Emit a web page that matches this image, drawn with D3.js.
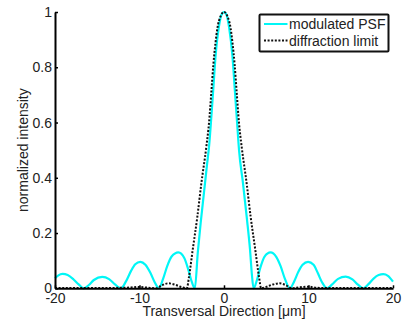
<!DOCTYPE html>
<html>
<head>
<meta charset="utf-8">
<script src="https://cdn.jsdelivr.net/npm/d3@7"></script>
<style>
  body { margin: 0; background: #fff; }
  text { font-family: "Liberation Sans", Arial, Helvetica, sans-serif; }
</style>
</head>
<body>
<svg id="chart"></svg>
<script>
// modulated PSF
const psfX = [-20, -19.6, -19.1, -18.5, -17.8, -17.2, -16.6, -16.0, -15.4, -14.4, -13.6, -12.9, -12.2,
  -11.6, -11.0, -10.5, -9.9, -9.3, -8.7, -8.2, -7.7, -7.2, -6.7, -6.2, -5.4, -4.7, -4.2, -3.8, -3.45,
  -3.1, -2.75, -2.5, -2.25, -2.0, -1.75, -1.5, -1.25, -1.0, -0.6, -0.3, 0,
  0.3, 0.6, 1.0, 1.3, 1.55, 1.78, 2.25, 2.68, 3.08, 3.3, 3.5,
  3.9, 4.3, 4.8, 5.5, 6.2, 6.7, 7.2, 7.8, 8.3, 8.8, 9.3, 9.95, 10.6, 11.1, 11.6, 12.2,
  12.8, 13.5, 14.4, 15.2, 15.9, 16.5, 17.1, 17.7, 18.3, 18.85, 19.4, 20];
const psfY = [0.036, 0.047, 0.052, 0.048, 0.032, 0.014, 0, 0.012, 0.030, 0.041, 0.033, 0.014, 0,
  0.025, 0.063, 0.087, 0.096, 0.085, 0.055, 0.022, 0, 0.035, 0.082, 0.115, 0.13, 0.11, 0.065, 0.022, 0,
  0.13, 0.24, 0.31, 0.38, 0.45, 0.52, 0.62, 0.73, 0.84, 0.947, 0.99, 1,
  0.99, 0.945, 0.84, 0.71, 0.6, 0.5, 0.38, 0.26, 0.14, 0.05, 0,
  0.03, 0.075, 0.115, 0.13, 0.113, 0.08, 0.035, 0, 0.025, 0.06, 0.085, 0.096, 0.085, 0.055, 0.022, 0,
  0.014, 0.034, 0.042, 0.032, 0.012, 0, 0.015, 0.035, 0.048, 0.051, 0.045, 0.024];

// diffraction limit
const difX = [-20, -14, -12, -11, -10.2, -9.3, -8.6, -8.0, -7.4, -6.6, -5.8, -5.0, -4.4,
  -4.14, -3.7, -3.15, -2.68, -2.1, -1.77, -1.5, -1.26, -1.0, -0.79, -0.4, 0,
  0.4, 0.79, 1.0, 1.26, 1.5, 1.77, 2.1, 2.68, 3.15, 3.7, 4.14,
  4.4, 5.0, 5.8, 6.6, 7.4, 8.0, 8.6, 9.9, 11, 12, 14, 20];
const difY = [0.001, 0.001, 0.002, 0.003, 0.005, 0.003, 0.001, 0, 0.01, 0.018, 0.013, 0.004, 0,
  0.042, 0.14, 0.26, 0.38, 0.51, 0.6, 0.71, 0.81, 0.89, 0.94, 0.985, 1,
  0.985, 0.94, 0.89, 0.81, 0.71, 0.6, 0.51, 0.38, 0.26, 0.14, 0.042,
  0, 0.005, 0.014, 0.018, 0.01, 0, 0.002, 0.006, 0.002, 0.001, 0.001, 0.001];

const xTicks = [-20, -10, 0, 10, 20];
const yTicks = [0, 0.2, 0.4, 0.6, 0.8, 1];
const legendLabels = ["modulated PSF", "diffraction limit"];

const size = { width: 405, height: 321 };
const plot = { left: 55, right: 393, top: 12, bottom: 288.3 };

const svg = d3.select("#chart")
  .attr("width", size.width)
  .attr("height", size.height);

const xScale = d3.scaleLinear([-20, 20], [plot.left, plot.right]);
const yScale = d3.scaleLinear([0, 1], [plot.bottom, plot.top]);

const line = d3.line()
  .x(d => xScale(d[0]))
  .y(d => yScale(d[1]))
  .curve(d3.curveMonotoneX);

const psf = psfX.map((x, i) => [x, psfY[i]]);
const dif = difX.map((x, i) => [x, difY[i]]);

// curves
svg.append("path")
  .attr("d", line(psf))
  .attr("fill", "none")
  .attr("stroke", "#00f6f6")
  .attr("stroke-width", 2.2);

svg.append("path")
  .attr("d", line(dif))
  .attr("fill", "none")
  .attr("stroke", "#111")
  .attr("stroke-width", 2)
  .attr("stroke-dasharray", "2,1.6");

// axes (ticks point inward like matlab)
const xAxis = svg.append("g")
  .attr("transform", `translate(0,${plot.bottom})`)
  .call(d3.axisBottom(xScale).tickValues(xTicks).tickSizeInner(-3).tickSizeOuter(0).tickFormat(d3.format("d")));
xAxis.select(".domain").attr("stroke", "#000").attr("stroke-width", 2);
xAxis.selectAll(".tick line").attr("stroke", "#000").attr("stroke-width", 1.5);
xAxis.selectAll(".tick text")
  .attr("y", 4.5)
  .attr("fill", "#222")
  .attr("font-size", 14)
  .text(d => d < 0 ? "-" + Math.abs(d) : d);

const yAxis = svg.append("g")
  .attr("transform", `translate(${plot.left},0)`)
  .call(d3.axisLeft(yScale).tickValues(yTicks).tickSizeInner(-3).tickSizeOuter(0).tickFormat(d => d3.format("~g")(d)));
yAxis.select(".domain").attr("stroke", "#000").attr("stroke-width", 2);
yAxis.selectAll(".tick line").attr("stroke", "#000").attr("stroke-width", 1.5);
yAxis.selectAll(".tick text")
  .attr("x", -3)
  .attr("fill", "#222")
  .attr("font-size", 14);

// axis labels
svg.append("text")
  .attr("x", (plot.left + plot.right) / 2)
  .attr("y", 316)
  .attr("text-anchor", "middle")
  .attr("font-size", 14)
  .attr("fill", "#222")
  .text("Transversal Direction [μm]");

svg.append("text")
  .attr("transform", `translate(27.5,${(plot.top + plot.bottom) / 2}) rotate(-90)`)
  .attr("text-anchor", "middle")
  .attr("font-size", 14)
  .attr("fill", "#222")
  .text("normalized intensity");

// legend
const legend = svg.append("g");
legend.append("rect")
  .attr("x", 259.5)
  .attr("y", 14.5)
  .attr("width", 129)
  .attr("height", 37)
  .attr("rx", 1)
  .attr("fill", "#fff")
  .attr("stroke", "#111")
  .attr("stroke-width", 2);

legendLabels.forEach((label, i) => {
  const y = 24 + i * 16.5;
  legend.append("line")
    .attr("x1", 264)
    .attr("x2", 287.5)
    .attr("y1", y)
    .attr("y2", y)
    .attr("stroke", i === 0 ? "#00f6f6" : "#111")
    .attr("stroke-width", 2)
    .attr("stroke-dasharray", i === 0 ? null : "2,1.6");
  legend.append("text")
    .attr("x", 289)
    .attr("y", y + 5)
    .attr("font-size", 14)
    .attr("fill", "#222")
    .text(label);
});
</script>
</body>
</html>
